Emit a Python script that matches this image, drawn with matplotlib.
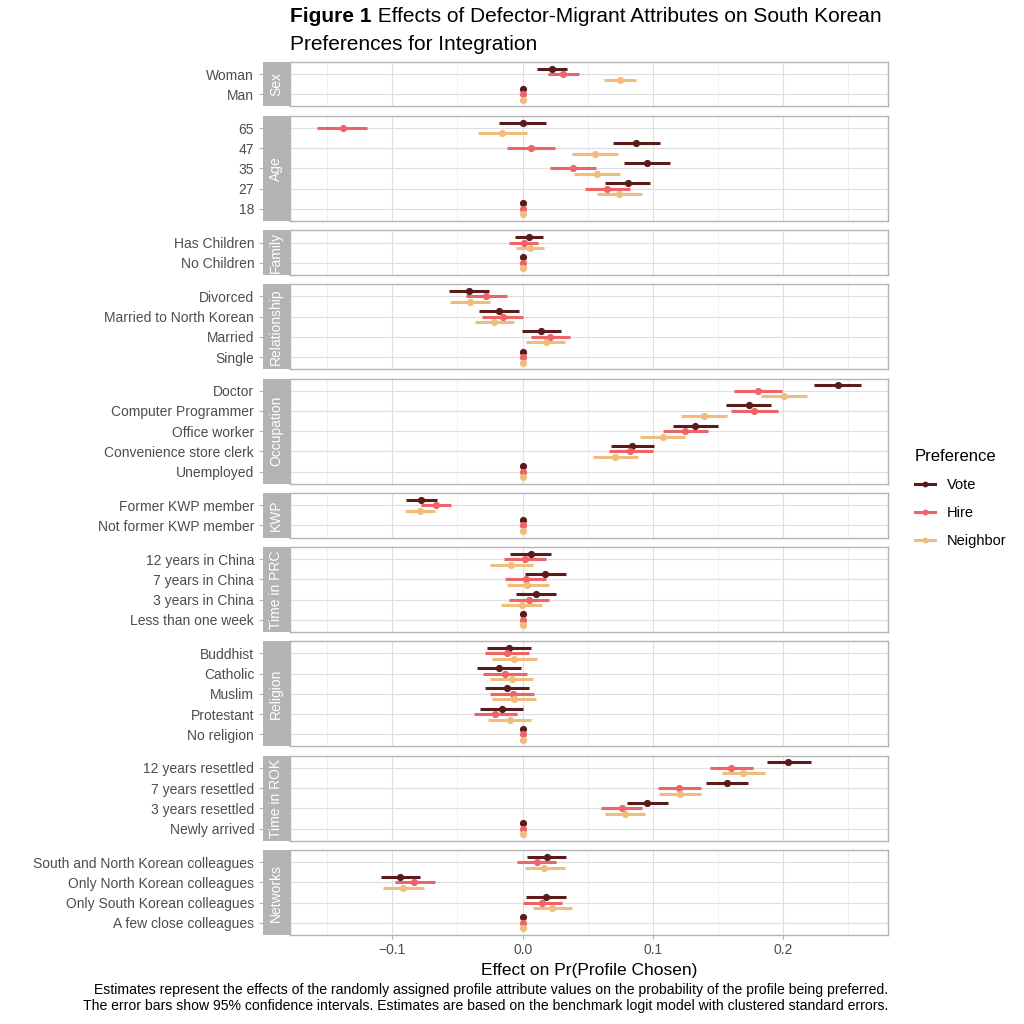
import matplotlib
matplotlib.use("Agg")
import matplotlib.pyplot as plt
from matplotlib.lines import Line2D
import numpy as np

plt.rcParams['font.family'] = ['Liberation Sans', 'DejaVu Sans']

# ---------------- data ----------------
panels = ["Sex", "Age", "Family", "Relationship", "Occupation", "KWP",
          "Time in PRC", "Religion", "Time in ROK", "Networks"]

row_panel = (["Sex"] * 2 + ["Age"] * 5 + ["Family"] * 2 + ["Relationship"] * 4 +
             ["Occupation"] * 5 + ["KWP"] * 2 + ["Time in PRC"] * 4 +
             ["Religion"] * 5 + ["Time in ROK"] * 4 + ["Networks"] * 4)

levels = ["Woman", "Man",
          "65", "47", "35", "27", "18",
          "Has Children", "No Children",
          "Divorced", "Married to North Korean", "Married", "Single",
          "Doctor", "Computer Programmer", "Office worker", "Convenience store clerk", "Unemployed",
          "Former KWP member", "Not former KWP member",
          "12 years in China", "7 years in China", "3 years in China", "Less than one week",
          "Buddhist", "Catholic", "Muslim", "Protestant", "No religion",
          "12 years resettled", "7 years resettled", "3 years resettled", "Newly arrived",
          "South and North Korean colleagues", "Only North Korean colleagues",
          "Only South Korean colleagues", "A few close colleagues"]

vote_est = [0.0228, 0.0,
            0.0, 0.0867, 0.0954, 0.0806, 0.0,
            0.0049, 0.0,
            -0.0414, -0.0182, 0.0142, 0.0,
            0.2420, 0.1735, 0.1324, 0.0843, 0.0,
            -0.0778, 0.0,
            0.0062, 0.0173, 0.0099, 0.0,
            -0.0108, -0.0182, -0.0120, -0.0160, 0.0,
            0.2040, 0.1565, 0.0957, 0.0,
            0.0185, -0.0938, 0.0176, 0.0]
vote_lo = [0.0114, 0.0,
           -0.0185, 0.0691, 0.0778, 0.0633, 0.0,
           -0.0059, 0.0,
           -0.0568, -0.0333, -0.0006, 0.0,
           0.2240, 0.1562, 0.1157, 0.0676, 0.0,
           -0.0892, 0.0,
           -0.0099, 0.0015, -0.0052, 0.0,
           -0.0272, -0.0349, -0.0287, -0.0327, 0.0,
           0.1873, 0.1410, 0.0802, 0.0,
           0.0034, -0.1086, 0.0025, 0.0]
vote_hi = [0.0343, 0.0,
           0.0182, 0.1052, 0.1130, 0.0981, 0.0,
           0.0157, 0.0,
           -0.0259, -0.0028, 0.0293, 0.0,
           0.2596, 0.1907, 0.1497, 0.1012, 0.0,
           -0.0660, 0.0,
           0.0219, 0.0330, 0.0253, 0.0,
           0.0062, -0.0015, 0.0049, 0.0006, 0.0,
           0.2210, 0.1728, 0.1114, 0.0,
           0.0336, -0.0784, 0.0330, 0.0]

hire_est = [0.0310, 0.0,
            -0.1380, 0.0065, 0.0386, 0.0648, 0.0,
            0.0009, 0.0,
            -0.0278, -0.0154, 0.0213, 0.0,
            0.1806, 0.1775, 0.1250, 0.0827, 0.0,
            -0.0667, 0.0,
            0.0019, 0.0025, 0.0049, 0.0,
            -0.0120, -0.0139, -0.0077, -0.0210, 0.0,
            0.1602, 0.1200, 0.0762, 0.0,
            0.0108, -0.0830, 0.0151, 0.0]
hire_lo = [0.0198, 0.0,
           -0.1577, -0.0117, 0.0207, 0.0478, 0.0,
           -0.0102, 0.0,
           -0.0435, -0.0309, 0.0065, 0.0,
           0.1623, 0.1596, 0.1080, 0.0660, 0.0,
           -0.0781, 0.0,
           -0.0142, -0.0133, -0.0102, 0.0,
           -0.0290, -0.0306, -0.0247, -0.0377, 0.0,
           0.1438, 0.1040, 0.0605, 0.0,
           -0.0040, -0.0981, 0.0003, 0.0]
hire_hi = [0.0429, 0.0,
           -0.1194, 0.0247, 0.0565, 0.0821, 0.0,
           0.0117, 0.0,
           -0.0117, 0.0003, 0.0361, 0.0,
           0.1988, 0.1957, 0.1420, 0.1000, 0.0,
           -0.0552, 0.0,
           0.0182, 0.0182, 0.0204, 0.0,
           0.0049, 0.0031, 0.0090, -0.0046, 0.0,
           0.1769, 0.1367, 0.0920, 0.0,
           0.0256, -0.0670, 0.0299, 0.0]

neigh_est = [0.0747, 0.0,
             -0.0157, 0.0556, 0.0568, 0.0741, 0.0,
             0.0059, 0.0,
             -0.0401, -0.0219, 0.0176, 0.0,
             0.2003, 0.1389, 0.1074, 0.0710, 0.0,
             -0.0790, 0.0,
             -0.0086, 0.0037, -0.0006, 0.0,
             -0.0065, -0.0083, -0.0068, -0.0099, 0.0,
             0.1691, 0.1207, 0.0784, 0.0,
             0.0167, -0.0917, 0.0228, 0.0]
neigh_lo = [0.0627, 0.0,
            -0.0346, 0.0377, 0.0392, 0.0574, 0.0,
            -0.0052, 0.0,
            -0.0556, -0.0367, 0.0028, 0.0,
            0.1827, 0.1213, 0.0904, 0.0540, 0.0,
            -0.0904, 0.0,
            -0.0247, -0.0120, -0.0164, 0.0,
            -0.0235, -0.0253, -0.0235, -0.0265, 0.0,
            0.1528, 0.1046, 0.0630, 0.0,
            0.0015, -0.1068, 0.0080, 0.0]
neigh_hi = [0.0867, 0.0,
            0.0034, 0.0735, 0.0744, 0.0914, 0.0,
            0.0167, 0.0,
            -0.0247, -0.0065, 0.0324, 0.0,
            0.2185, 0.1568, 0.1247, 0.0883, 0.0,
            -0.0670, 0.0,
            0.0077, 0.0201, 0.0145, 0.0,
            0.0108, 0.0083, 0.0102, 0.0068, 0.0,
            0.1858, 0.1370, 0.0941, 0.0,
            0.0324, -0.0756, 0.0380, 0.0]

series_names = ["Vote", "Hire", "Neighbor"]
series_colors = ["#5A1B1B", "#EE6468", "#EFBE7C"]
series_offsets = [-0.27, 0.0, 0.27]

title_bold = "Figure 1"
title_rest = " Effects of Defector-Migrant Attributes on South Korean"
title_line2 = "Preferences for Integration"
x_label = "Effect on Pr(Profile Chosen)"
caption = ("Estimates represent the effects of the randomly assigned profile attribute values on the probability of the profile being preferred.\n"
           "The error bars show 95% confidence intervals. Estimates are based on the benchmark logit model with clustered standard errors.")
x_major = [-0.1, 0.0, 0.1, 0.2]
x_minor = [-0.15, -0.05, 0.05, 0.15, 0.25]

# ---------------- layout ----------------
W = H = 1024
fig = plt.figure(figsize=(W / 100, H / 100), dpi=100)
fig.patch.set_facecolor("white")

est = [vote_est, hire_est, neigh_est]
lo = [vote_lo, hire_lo, neigh_lo]
hi = [vote_hi, hire_hi, neigh_hi]

all_lo = min(min(l) for l in lo)
all_hi = max(max(h) for h in hi)
span = all_hi - all_lo
xlim = (all_lo - 0.05 * span, all_hi + 0.05 * span)

panel_left, panel_right = 290, 888
top_px, bottom_px = 62, 935
gap_px = 9.4
counts = [row_panel.count(p) for p in panels]
units = sum(c + 0.2 for c in counts)
unit_px = (bottom_px - top_px - gap_px * (len(panels) - 1)) / units

grey70 = "#B3B3B3"
grid_major = "#DEDEDE"
grid_minor = "#EDEDED"
txt_grey = "#4D4D4D"

y_cursor = top_px
axes = []
for pi, pname in enumerate(panels):
    idx = [i for i, p in enumerate(row_panel) if p == pname]
    n = len(idx)
    h_px = (n + 0.2) * unit_px
    b = 1 - (y_cursor + h_px) / H
    ax = fig.add_axes([panel_left / W, b, (panel_right - panel_left) / W, h_px / H])
    sax = fig.add_axes([262.5 / W, b, (panel_left - 262.5 - 0.5) / W, h_px / H], sharey=ax)
    ypos = np.arange(n)
    ax.set_ylim(n - 1 + 0.6, -0.6)
    ax.set_xlim(*xlim)
    # grid
    for xv in x_minor:
        ax.axvline(xv, color=grid_minor, lw=0.6, zorder=0)
    for xv in x_major:
        ax.axvline(xv, color=grid_major, lw=0.8, zorder=0)
    for yv in ypos:
        ax.axhline(yv, color=grid_major, lw=0.8, zorder=0)
    # data
    for s in range(3):
        e = np.array([est[s][i] for i in idx])
        l = np.array([lo[s][i] for i in idx])
        hh = np.array([hi[s][i] for i in idx])
        yy = ypos + series_offsets[s]
        ax.hlines(yy, l, hh, color=series_colors[s], lw=2.2, zorder=3)
        ax.plot(e, yy, "o", color=series_colors[s], ms=5.2, zorder=4, mew=0)
    for sp in ax.spines.values():
        sp.set_color(grey70)
        sp.set_linewidth(1.0)
    ax.set_yticks([])
    ax.tick_params(axis="y", left=False, labelleft=False)
    ax.set_xticks(x_major)
    if pi == len(panels) - 1:
        ax.set_xticklabels([f"{v:.1f}".replace("-", "\u2212") for v in x_major])
        ax.tick_params(axis="x", colors=grey70, labelcolor=txt_grey, labelsize=10,
                       length=3, width=0.8, pad=3)
        ax.set_xlabel(x_label, fontsize=12.5, color="black", labelpad=4)
    else:
        ax.tick_params(axis="x", bottom=False, labelbottom=False)
    # strip
    sax.set_facecolor(grey70)
    for sp in sax.spines.values():
        sp.set_visible(False)
    sax.set_xticks([])
    sax.set_yticks(ypos)
    sax.set_yticklabels([levels[i] for i in idx])
    sax.tick_params(axis="y", colors=grey70, labelcolor=txt_grey, labelsize=10,
                    length=3, width=0.8, pad=3)
    sax.text(0.5, 0.5, pname, rotation=90, transform=sax.transAxes, ha="center",
             va="center", color="white", fontsize=10)
    y_cursor += h_px + gap_px
    axes.append(ax)

# ---------------- title ----------------
fig.canvas.draw()
renderer = fig.canvas.get_renderer()
title_size = 15
t1 = fig.text(panel_left / W, 1 - 17 / H, title_bold, fontsize=title_size, fontweight="bold",
              ha="left", va="center")
bb = t1.get_window_extent(renderer=renderer)
fig.text(bb.x1 / W, 1 - 17 / H, title_rest, fontsize=title_size, ha="left", va="center")
fig.text(panel_left / W, 1 - 45 / H, title_line2, fontsize=title_size, ha="left", va="center")

# ---------------- legend ----------------
handles = [Line2D([0], [0], color=c, lw=2.2, marker="o", ms=4.2, mew=0) for c in series_colors]
leg = fig.legend(handles, series_names, loc="upper left",
                 bbox_to_anchor=(902 / W, 1 - 436 / H), frameon=False,
                 title="Preference", fontsize=10.5, title_fontsize=12,
                 handlelength=1.35, handletextpad=0.85, labelspacing=0.95,
                 alignment="left", borderpad=0.4)

# ---------------- caption ----------------
fig.text(panel_right / W, 1 - 998 / H, caption, fontsize=10.1, ha="right", va="center",
         linespacing=1.25)

fig.savefig("out.png", dpi=100, facecolor="white")
